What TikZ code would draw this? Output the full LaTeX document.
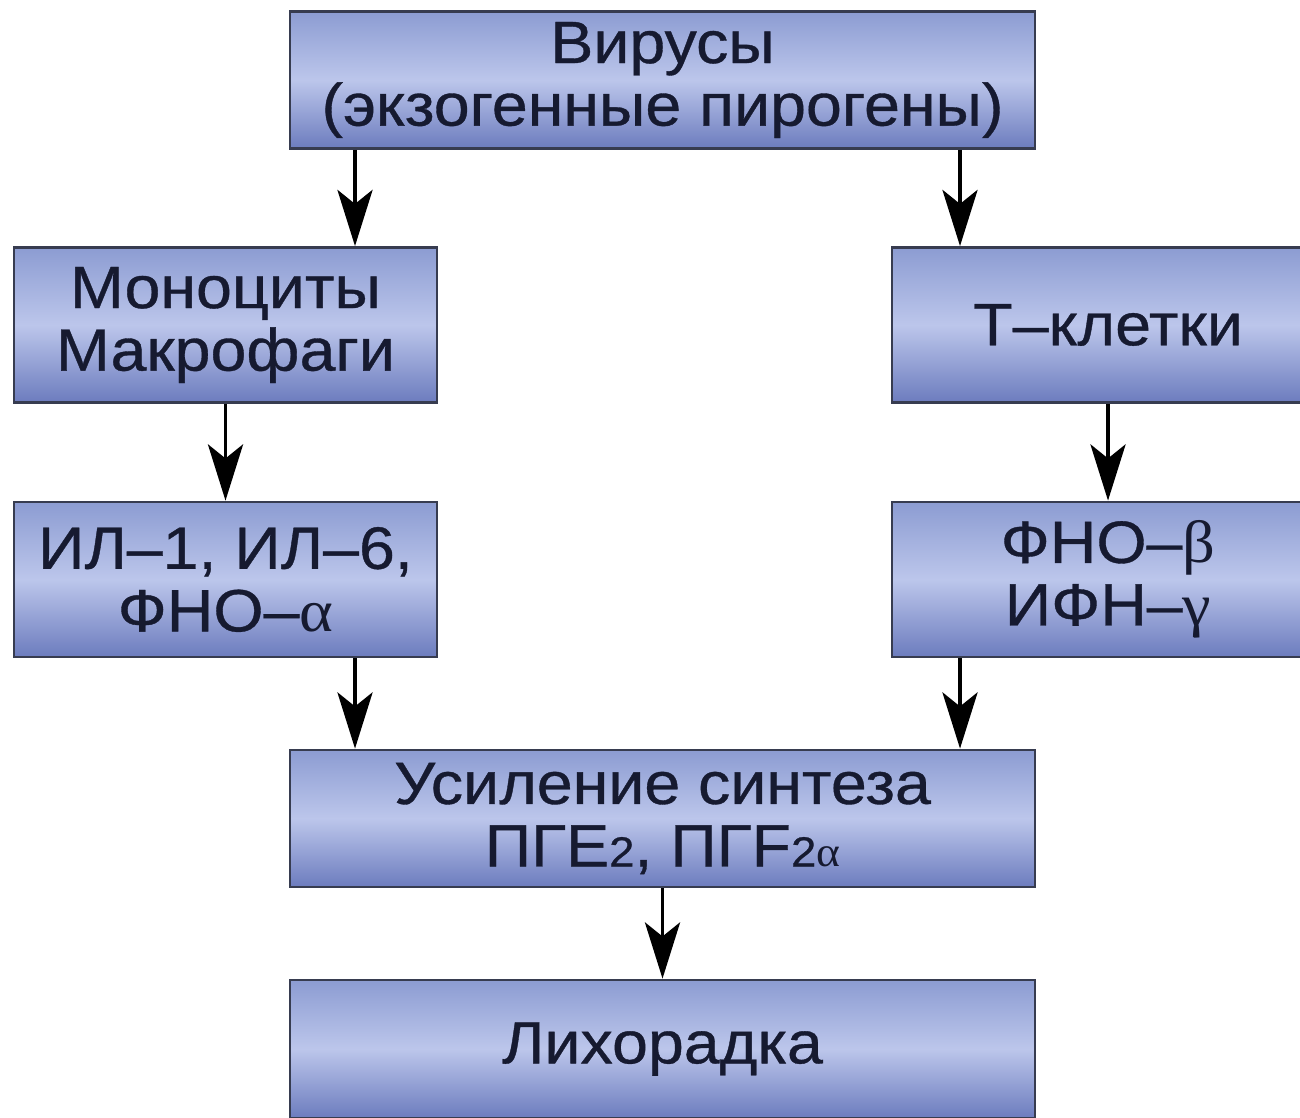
\documentclass[tikz,border=0pt]{standalone}
\usepackage{fontspec}
\setmainfont[FakeStretch=1.08, FakeBold=0.6]{Liberation Sans}
\newfontfamily\grk[FakeStretch=1.08]{Liberation Serif}
\usetikzlibrary{arrows.meta}
\definecolor{boxtop}{RGB}{140,156,210}
\definecolor{boxmid}{RGB}{188,198,235}
\definecolor{boxbot}{RGB}{108,124,190}
\definecolor{boxline}{RGB}{55,60,80}
\definecolor{ink}{RGB}{22,26,48}

\begin{document}
\begin{tikzpicture}[
  box/.style={draw=boxline, line width=0.8pt, rectangle, align=center,
    top color=boxtop, bottom color=boxbot, middle color=boxmid,
    text=ink, font=\fontsize{17}{17.8}\selectfont,
    minimum height=1.37cm, inner sep=0pt},
  wide/.style={box, minimum width=7.45cm},
  side/.style={box, minimum width=4.23cm, minimum height=1.55cm},
  arr/.style={-{Stealth[length=16pt, width=10pt, inset=4pt]}, line width=1pt, draw=black}
]
\useasboundingbox (0,0) rectangle (13,-11.18);

\node [wide] (vir) at (6.625,-0.80) {Вирусы\\(экзогенные пирогены)};
\node [side] (mono) at (2.255,-3.25) {Моноциты\\Макрофаги};
\node [side, minimum width=4.32cm] (tcell) at (11.08,-3.25) {Т–клетки};
\node [side] (il) at (2.255,-5.795) {ИЛ–1, ИЛ–6,\\ФНО–{\grk α}};
\node [side, minimum width=4.32cm] (tnf) at (11.08,-5.795) {ФНО–{\grk β}\\ИФН–{\grk γ}};
\node [wide] (syn) at (6.625,-8.185) {Усиление синтеза\\ПГЕ{\fontsize{12}{12}\selectfont 2}, ПГF{\fontsize{12}{12}\selectfont 2{\grk α}}};
\node [wide, minimum height=1.38cm] (fev) at (6.625,-10.49) {Лихорадка};

\coordinate (l) at (3.55,0);
\coordinate (r) at (9.60,0);

\draw [arr] (vir.south -| l) -- (mono.north -| l);
\draw [arr] (vir.south -| r) -- (tcell.north -| r);
\draw [arr] (mono) -- (il);
\draw [arr] (tcell) -- (tnf);
\draw [arr] (il.south -| l) -- (syn.north -| l);
\draw [arr] (tnf.south -| r) -- (syn.north -| r);
\draw [arr] (syn) -- (fev);

\end{tikzpicture}
\end{document}
